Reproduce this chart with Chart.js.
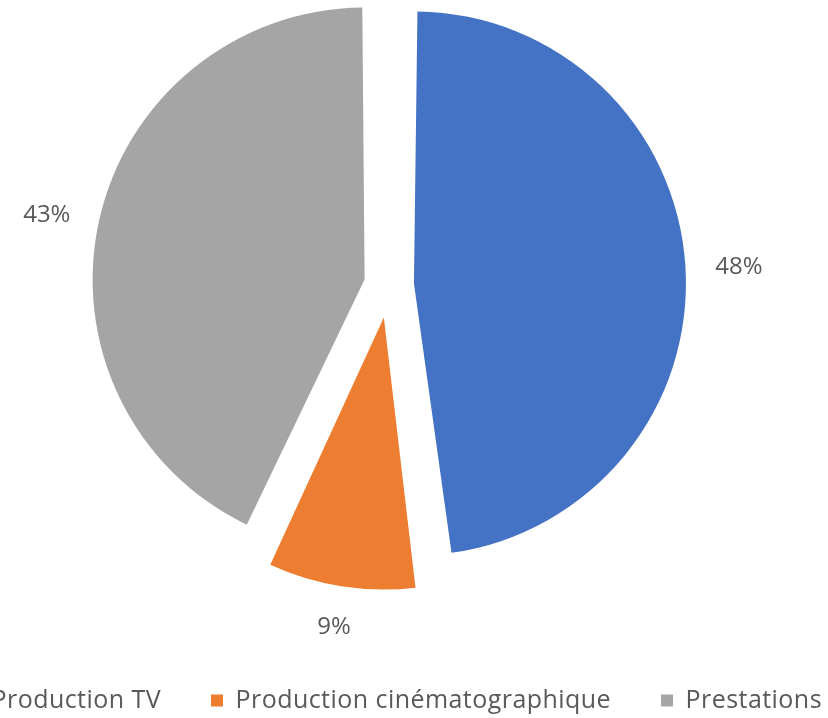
<!DOCTYPE html>
<html>
<head>
<meta charset="utf-8">
<script src="https://cdn.jsdelivr.net/npm/chart.js"></script>
<style>
  html, body { margin: 0; padding: 0; background: #fff; overflow: hidden; width: 828px; height: 718px; }
  #wrap { position: absolute; left: -94px; top: -68px; width: 966px; height: 791px; }
</style>
</head>
<body>
<div id="wrap"><canvas id="chart"></canvas></div>
<script>
const categories = ['Production TV', 'Production cinématographique', 'Prestations'];
const shares = [48, 9, 43];
const colors = ['#4472C4', '#ED7D31', '#A5A5A5'];
const explode = [25, 33, 25]; // px a slice is pulled out

const pieRadius = 272;
const textColor = '#595959';
const fontFamily = "'Open Sans', 'Noto Sans', sans-serif";

// chart.js grows an offset arc's radius by offset/4 * (1 - sin(angle)); undo that
const keepRadius = {
  id: 'keepRadius',
  afterDatasetsUpdate(chart) {
    chart.getDatasetMeta(0).data.forEach((arc, i) => {
      const fix = 1 - Math.sin(Math.min(Math.PI, arc.circumference));
      arc.outerRadius = pieRadius - explode[i] * fix;
    });
  }
};

// percent labels just outside each slice
const outsideLabels = {
  id: 'outsideLabels',
  afterDatasetsDraw(chart) {
    const ctx = chart.ctx;
    const meta = chart.getDatasetMeta(0);
    const total = shares.reduce((a, b) => a + b, 0);
    ctx.save();
    ctx.letterSpacing = '0px';
    ctx.font = '24px ' + fontFamily;
    ctx.fillStyle = textColor;
    ctx.textAlign = 'center';
    ctx.textBaseline = 'middle';
    meta.data.forEach((arc, i) => {
      const mid = (arc.startAngle + arc.endAngle) / 2;
      const ux = Math.cos(mid), uy = Math.sin(mid);
      const txt = Math.round(shares[i] / total * 100) + '%';
      const w = ctx.measureText(txt).width;
      const h = 17;
      const d = pieRadius + explode[i] + 30;
      ctx.fillText(txt, arc.x + d * ux + ux * w / 2, arc.y + d * uy + uy * h / 2 + 3);
    });
    ctx.restore();
  }
};

// slightly looser legend text, like the original (canvas resize resets it, so set it before each layout)
const looseText = {
  id: 'looseText',
  beforeLayout(chart) { chart.ctx.letterSpacing = '0.45px'; },
  beforeDraw(chart) { chart.ctx.letterSpacing = '0.45px'; }
};

new Chart(document.querySelector('#chart'), {
  type: 'pie',
  data: {
    labels: categories,
    datasets: [{
      data: shares,
      backgroundColor: colors,
      borderWidth: 0,
      // chart.js moves an arc by offset / 4
      offset: explode.map(v => v * 4)
    }]
  },
  options: {
    responsive: true,
    maintainAspectRatio: false,
    animation: false,
    radius: pieRadius,
    layout: { padding: 0 },
    plugins: {
      tooltip: { enabled: false },
      legend: {
        position: 'bottom',
        align: 'end',
        labels: {
          boxWidth: 12,
          boxHeight: 12,
          padding: 50,
          color: textColor,
          font: { family: fontFamily, size: 25 }
        }
      }
    }
  },
  plugins: [looseText, keepRadius, outsideLabels]
});
</script>
</body>
</html>
